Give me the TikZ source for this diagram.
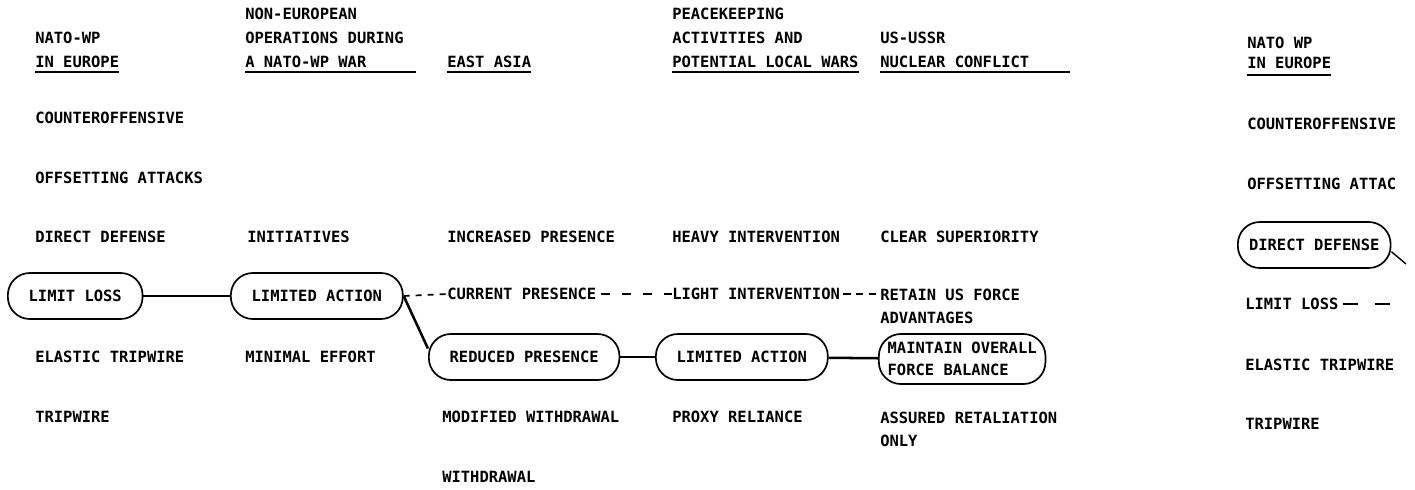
\documentclass[tikz,border=0pt]{standalone}
\usepackage{fontspec}
\setmonofont{DejaVu Sans Mono}

\tikzset{
	lbl/.style={anchor=west, inner sep=0pt, font=\ttfamily\bfseries\fontsize{11}{17}\selectfont},
	hdr/.style={lbl, anchor=south west, align=left},
	choice/.style={lbl, draw, line width=1.2pt, rounded corners=0.55cm, minimum height=1.15cm, inner xsep=0.52cm},
	link/.style={line width=1.8pt},
	alt/.style={line width=1.2pt, dash pattern=on 0.15cm off 0.15cm},
	rule/.style={line width=1pt}
}

\begin{document}
\begin{tikzpicture}[x=0.025cm, y=-0.025cm]
\useasboundingbox (0,0) rectangle (1415,489);

% column heads
\node[hdr] (hdrA) at (35,68) {NATO-WP\\IN EUROPE};
\node[hdr] (hdrB) at (245,68) {NON-EUROPEAN\\OPERATIONS DURING\\A NATO-WP WAR};
\node[hdr] (hdrC) at (447,68) {EAST ASIA};
\node[hdr] (hdrD) at (672,68) {PEACEKEEPING\\ACTIVITIES AND\\POTENTIAL LOCAL WARS};
\node[hdr] (hdrE) at (880,68) {US-USSR\\NUCLEAR CONFLICT};
\node[hdr, font=\ttfamily\bfseries\fontsize{11}{14}\selectfont] (hdrF) at (1247,69) {NATO WP\\IN EUROPE};
\draw[rule] ([yshift=-0.1cm]hdrA.south west) -- ([yshift=-0.1cm]hdrA.south east);
\draw[rule] ([yshift=-0.1cm]hdrB.south west) -- ([xshift=0.3cm,yshift=-0.1cm]hdrB.south east);
\draw[rule] ([yshift=-0.1cm]hdrC.south west) -- ([yshift=-0.1cm]hdrC.south east);
\draw[rule] ([yshift=-0.1cm]hdrD.south west) -- ([yshift=-0.1cm]hdrD.south east);
\draw[rule] ([yshift=-0.1cm]hdrE.south west) -- ([xshift=1cm,yshift=-0.1cm]hdrE.south east);
\draw[rule] ([yshift=-0.15cm]hdrF.south west) -- ([yshift=-0.15cm]hdrF.south east);

% NATO-WP in Europe
\node[lbl] (cntA) at (35,118) {COUNTEROFFENSIVE};
\node[lbl] (offA) at (35,178) {OFFSETTING ATTACKS};
\node[lbl] (dirA) at (35,237) {DIRECT DEFENSE};
\node[choice] (lossA) at (7,296) {LIMIT LOSS};
\node[lbl] (elaA) at (35,357) {ELASTIC TRIPWIRE};
\node[lbl] (triA) at (35,417) {TRIPWIRE};

% non-European operations
\node[lbl] (iniB) at (247,237) {INITIATIVES};
\node[choice] (actB) at (230,296) {LIMITED ACTION};
\node[lbl] (minB) at (245,357) {MINIMAL EFFORT};

% East Asia
\node[lbl] (incC) at (447,237) {INCREASED PRESENCE};
\node[lbl] (curC) at (447,294) {CURRENT PRESENCE};
\node[choice] (redC) at (428,357) {REDUCED PRESENCE};
\node[lbl] (modC) at (442,417) {MODIFIED WITHDRAWAL};
\node[lbl] (witC) at (442,477) {WITHDRAWAL};

% peacekeeping
\node[lbl] (heaD) at (672,237) {HEAVY INTERVENTION};
\node[lbl] (ligD) at (672,294) {LIGHT INTERVENTION};
\node[choice] (actD) at (655,357) {LIMITED ACTION};
\node[lbl] (proD) at (672,417) {PROXY RELIANCE};

% US-USSR
\node[lbl] (clrE) at (880,237) {CLEAR SUPERIORITY};
\node[lbl, align=left, anchor=north west, font=\ttfamily\bfseries\fontsize{11}{16}\selectfont] (retE) at (880,289) {RETAIN US FORCE\\ADVANTAGES};
\node[choice, align=left, inner xsep=0.22cm, minimum height=1.25cm, font=\ttfamily\bfseries\fontsize{11}{16}\selectfont] (balE) at (878,359) {MAINTAIN OVERALL\\FORCE BALANCE};
\node[lbl, align=left, anchor=north west, font=\ttfamily\bfseries\fontsize{11}{16}\selectfont] (assE) at (880,412) {ASSURED RETALIATION\\ONLY};

% next sheet, cut off
\node[lbl] (cntF) at (1247,124) {COUNTEROFFENSIVE};
\node[lbl] (offF) at (1247,184) {OFFSETTING ATTAC};
\node[choice, inner xsep=0.28cm] (dirF) at (1237,245) {DIRECT DEFENSE};
\node[lbl] (lossF) at (1245,304) {LIMIT LOSS};
\node[lbl] (elaF) at (1245,365) {ELASTIC TRIPWIRE};
\node[lbl] (triF) at (1245,424) {TRIPWIRE};
\coordinate (edgeA) at (1406,264);
\coordinate (edgeB) at (1395,304);

\draw[link] (lossA) -- (actB);
\draw[link] (actB.east) -- (redC.175);
\draw[link] (redC) -- (actD);
\draw[link] (actD) -- (balE);
\draw[alt] (actB.east) -- (curC.west);
\draw[alt, dash pattern=on 0.22cm off 0.3cm] ([xshift=0.12cm]curC.east) -- (ligD.west);
\draw[alt, dash pattern=on 0.18cm off 0.14cm] ([xshift=0.08cm]ligD.east) -- (retE.north west |- ligD.east);
\draw[link, line width=1pt] (dirF.355) -- (edgeA);
\draw[alt, dash pattern=on 0.38cm off 0.42cm] ([xshift=0.1cm]lossF.east) -- (edgeB);
\end{tikzpicture}
\end{document}
